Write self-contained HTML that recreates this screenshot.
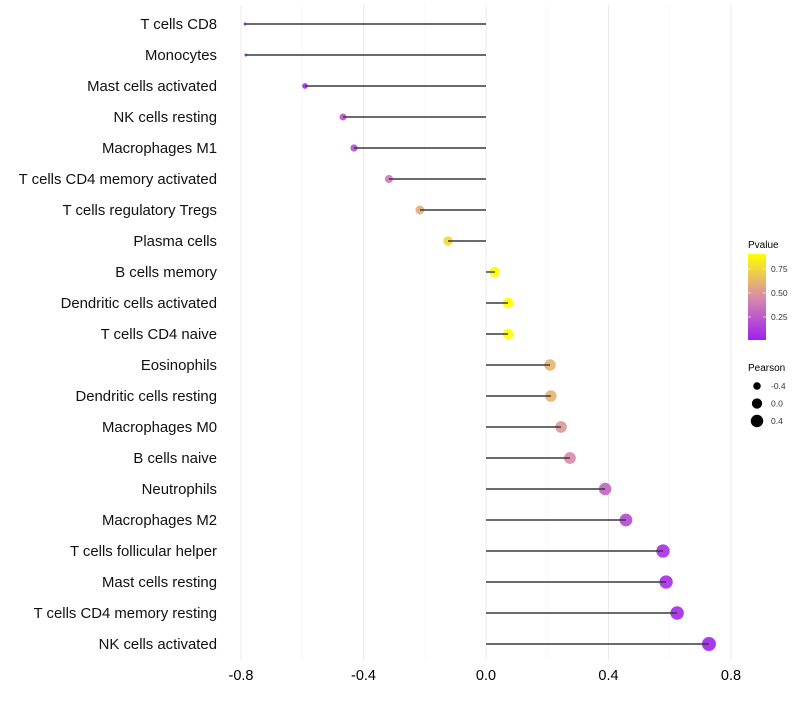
<!DOCTYPE html>
<html><head><meta charset="utf-8"><style>
body{margin:0;background:#fff;font-family:"Liberation Sans",sans-serif}
</style></head><body>
<svg id="chart" width="800" height="700" xmlns="http://www.w3.org/2000/svg"></svg>
<script>
const categories=["T cells CD8","Monocytes","Mast cells activated","NK cells resting","Macrophages M1","T cells CD4 memory activated","T cells regulatory  Tregs ","Plasma cells","B cells memory","Dendritic cells activated","T cells CD4 naive","Eosinophils","Dendritic cells resting","Macrophages M0","B cells naive","Neutrophils","Macrophages M2","T cells follicular helper","Mast cells resting","T cells CD4 memory resting","NK cells activated"];
const pearson=[-0.787,-0.784,-0.591,-0.467,-0.431,-0.317,-0.216,-0.124,0.029,0.072,0.072,0.209,0.212,0.245,0.274,0.389,0.457,0.578,0.588,0.624,0.728];
const pvalues=[0.01,0.01,0.06,0.22,0.2,0.38,0.58,0.75,0.88,0.9,0.9,0.6,0.6,0.5,0.44,0.28,0.17,0.06,0.05,0.03,0.01];
const xTicks=[-0.8,-0.4,0.0,0.4,0.8];
const xTickLabels=["-0.8","-0.4","0.0","0.4","0.8"];
const legendP=[0.25,0.50,0.75];
const legendS=[-0.4,0.0,0.4];

const svg=document.getElementById('chart');
const NS="http://www.w3.org/2000/svg";
function X(v){return 486+v*306.25;}
function Y(i){return 24+i*31;}
function R(v){return Math.sqrt(Math.max(1,26.5+30.9*v));}
function col(p){
  const t=Math.max(0,Math.min(1,p/0.9));
  const stops=[[160,32,240],[216,140,168],[255,255,0]];
  let a,b,u;
  if(t<0.5){a=stops[0];b=stops[1];u=t/0.5;}else{a=stops[1];b=stops[2];u=(t-0.5)/0.5;}
  return `rgb(${Math.round(a[0]+(b[0]-a[0])*u)},${Math.round(a[1]+(b[1]-a[1])*u)},${Math.round(a[2]+(b[2]-a[2])*u)})`;
}
function el(tag,attrs,txt){const e=document.createElementNS(NS,tag);for(const k in attrs)e.setAttribute(k,attrs[k]);if(txt!==undefined)e.textContent=txt;svg.appendChild(e);return e;}

xTicks.forEach((t,i)=>{
  const g=el('line',{x1:X(t),x2:X(t),y1:5,y2:660,stroke:'#ebebeb','stroke-width':1});
  
  
  if(i<xTicks.length-1){
    const m=el('line',{x1:X((t+xTicks[i+1])/2),x2:X((t+xTicks[i+1])/2),y1:5,y2:660,stroke:'#f4f4f4','stroke-width':0.6});
    
    
  }
  const l=el('text',{x:X(t),y:680,'text-anchor':'middle','font-size':14.5,fill:'#000'},xTickLabels[i]);
  
  
});
categories.forEach((c,i)=>{
  const l=el('text',{x:217,y:Y(i)+5,'text-anchor':'end','font-size':14.9,fill:'#111'},c);
  
  
  const p=el('circle',{cx:X(pearson[i]),cy:Y(i),r:R(pearson[i]),fill:col(pvalues[i]),'fill-opacity':0.9});
  
  
  const s=el('line',{x1:X(0),x2:X(pearson[i]),y1:Y(i),y2:Y(i),stroke:'#3a3a3a','stroke-width':1.4});
  
  
});
const defs=el('defs',{});
const lg=document.createElementNS(NS,'linearGradient');
lg.setAttribute('id','pg');lg.setAttribute('x1','0');lg.setAttribute('y1','1');lg.setAttribute('x2','0');lg.setAttribute('y2','0');
[0,0.25,0.5,0.75,1].forEach(o=>{const s=document.createElementNS(NS,'stop');s.setAttribute('offset',o);s.setAttribute('stop-color',col(o*0.9));lg.appendChild(s);});
defs.appendChild(lg);
const lt=el('text',{x:748,y:248,'font-size':10,fill:'#000'},'Pvalue');


const bar=el('rect',{x:748,y:254,width:18,height:86,fill:'url(#pg)'});


legendP.forEach(p=>{
  const y=341-p*96;
  el('line',{x1:748,x2:751,y1:y,y2:y,stroke:'#fff','stroke-width':0.6});
  el('line',{x1:763,x2:766,y1:y,y2:y,stroke:'#fff','stroke-width':0.6});
  const t=el('text',{x:771,y:y+3,'font-size':8.5,fill:'#333'},p.toFixed(2));
  
  
});
const st=el('text',{x:748,y:371,'font-size':10,fill:'#000'},'Pearson');


legendS.forEach((v,i)=>{
  const y=386+i*17.5;
  const c=el('circle',{cx:757,cy:y,r:R(v),fill:'#000'});
  
  
  const t=el('text',{x:771,y:y+3,'font-size':8.5,fill:'#333'},v.toFixed(1));
  
  
});
</script>
</body></html>
